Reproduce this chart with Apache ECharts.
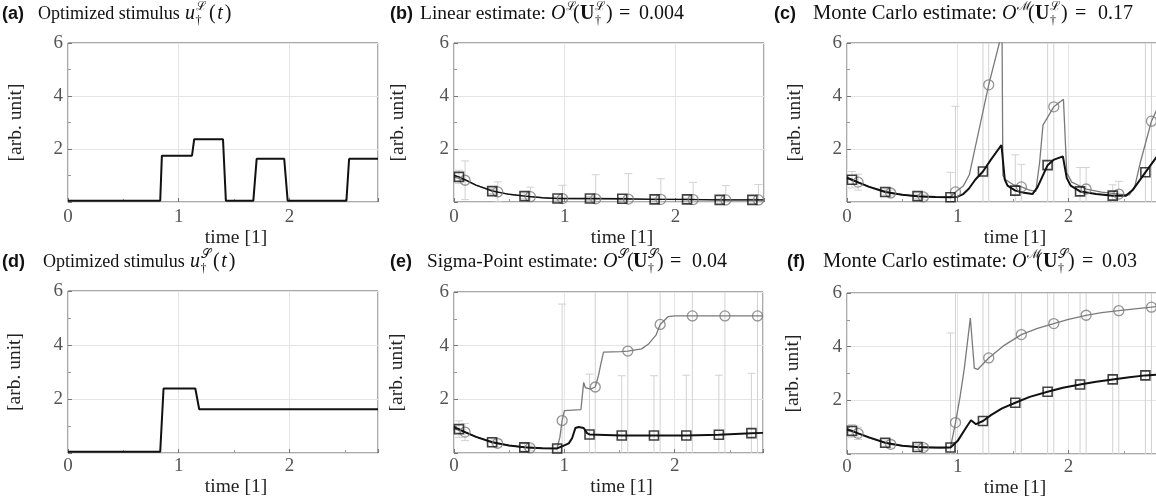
<!DOCTYPE html>
<html><head><meta charset="utf-8">
<script src="https://cdn.jsdelivr.net/npm/echarts@6/dist/echarts.min.js"></script>
<style>html,body{margin:0;padding:0;background:#fff}#c{width:1156px;height:496px}</style>
</head><body><div id="c"></div>
<script>
// ---------- DATA ----------
// optimized stimuli (a) and (d)
const stimA_t = [0, 0.833, 0.848, 1.12, 1.14, 1.40, 1.426, 1.674, 1.704, 1.953, 1.984, 2.515, 2.539, 2.8];
const stimA_u = [0.05, 0.05, 1.75, 1.75, 2.37, 2.37, 0.05, 0.05, 1.63, 1.63, 0.05, 0.05, 1.63, 1.63];
const stimD_t = [0, 0.833, 0.863, 1.15, 1.185, 2.8];
const stimD_u = [0.05, 0.05, 2.39, 2.39, 1.62, 1.62];

// marker times (squares = black estimate, circles = grey estimate)
const sqT = [0.045, 0.345, 0.637, 0.935, 1.228, 1.52, 1.812, 2.105, 2.40, 2.695];
const ciT = [0.10, 0.395, 0.69, 0.98, 1.28, 1.575, 1.868, 2.16, 2.455, 2.75];

// (b) linear estimate
const bSq = [0.95, 0.41, 0.22, 0.13, 0.13, 0.12, 0.10, 0.10, 0.08, 0.08];
const bCi = [0.82, 0.38, 0.20, 0.13, 0.12, 0.11, 0.10, 0.09, 0.08, 0.08];
const bSqTop = [1.2, 0.5, 0.3, 0.2, 0.2, 0.18, 0.15, 0.14, 0.12, 0.12];
const bCiTop = [1.55, 0.76, 0.56, 0.63, 1.03, 1.07, 0.88, 0.74, 0.62, 0.66];
const bBlackT = [0, 0.045, 0.1, 0.2, 0.345, 0.5, 0.637, 0.8, 0.935, 1.228, 1.52, 1.812, 2.105, 2.4, 2.695, 2.8];
const bBlackV = [1.0, 0.95, 0.84, 0.64, 0.41, 0.29, 0.22, 0.16, 0.13, 0.13, 0.12, 0.10, 0.10, 0.08, 0.08, 0.08];
const bGrayT = [0, 0.1, 0.2, 0.395, 0.5, 0.69, 0.85, 0.98, 1.28, 1.575, 1.868, 2.16, 2.455, 2.75, 2.8];
const bGrayV = [0.95, 0.82, 0.63, 0.38, 0.29, 0.20, 0.15, 0.13, 0.12, 0.11, 0.10, 0.09, 0.08, 0.08, 0.08];

// (c) Monte Carlo for U^L
const cSq = [0.84, 0.38, 0.22, 0.18, 1.15, 0.43, 1.39, 0.40, 0.24, 1.12];
const cCi = [0.75, 0.34, 0.19, 0.38, 4.42, 0.57, 3.59, 0.49, 0.30, 3.05];
const cSqTop = [1.15, 0.5, 0.3, 1.12, 12, 1.78, 12, 1.30, 0.65, 12];
const cCiTop = [1.05, 0.45, 0.3, 3.61, 12, 1.42, 12, 1.30, 0.78, 12];
const cBlackT = [0, 0.045, 0.1, 0.2, 0.345, 0.5, 0.637, 0.8, 0.935, 1.0, 1.05, 1.1, 1.16, 1.228, 1.3, 1.395, 1.425, 1.45, 1.52, 1.6, 1.675, 1.72, 1.812, 1.87, 1.95, 1.985, 2.02, 2.105, 2.25, 2.4, 2.52, 2.58, 2.695, 2.8];
const cBlackV = [0.92, 0.84, 0.74, 0.57, 0.38, 0.27, 0.22, 0.19, 0.18, 0.2, 0.3, 0.5, 0.85, 1.15, 1.6, 2.15, 0.85, 0.62, 0.43, 0.35, 0.30, 0.55, 1.39, 1.6, 1.72, 0.9, 0.62, 0.40, 0.30, 0.24, 0.24, 0.45, 1.12, 1.72];
const cGrayT = [0, 0.1, 0.2, 0.395, 0.5, 0.69, 0.85, 0.935, 0.98, 1.05, 1.105, 1.28, 1.376, 1.40, 1.408, 1.43, 1.5, 1.575, 1.65, 1.705, 1.74, 1.77, 1.868, 1.955, 1.985, 2.03, 2.16, 2.3, 2.455, 2.55, 2.6, 2.65, 2.75, 2.8];
const cGrayV = [0.88, 0.75, 0.58, 0.34, 0.27, 0.19, 0.18, 0.2, 0.38, 0.6, 1.03, 4.42, 6.0, 6.6, 1.0, 0.85, 0.66, 0.57, 0.45, 0.40, 1.5, 2.9, 3.59, 3.88, 1.1, 0.75, 0.49, 0.37, 0.30, 0.27, 0.6, 1.5, 3.05, 3.5];

// (e) sigma-point estimate
const eSq = [0.89, 0.40, 0.21, 0.17, 0.69, 0.65, 0.65, 0.65, 0.68, 0.74];
const eCi = [0.78, 0.36, 0.19, 1.21, 2.46, 3.80, 4.79, 5.11, 5.11, 5.11];
const eSqTop = [1.2, 0.55, 0.35, 0.3, 2.94, 2.88, 2.88, 2.9, 2.9, 2.97];
const eCiTop = [1.1, 0.5, 0.3, 5.55, 12, 12, 12, 12, 12, 12];
const eBlackT = [0, 0.045, 0.1, 0.2, 0.345, 0.5, 0.637, 0.8, 0.935, 1.01, 1.04, 1.07, 1.10, 1.13, 1.175, 1.205, 1.228, 1.52, 1.812, 2.105, 2.4, 2.695, 2.8];
const eBlackV = [0.96, 0.89, 0.78, 0.60, 0.40, 0.28, 0.21, 0.18, 0.17, 0.30, 0.36, 0.55, 0.93, 0.97, 0.93, 0.74, 0.69, 0.65, 0.65, 0.65, 0.68, 0.74, 0.75];
const eGrayT = [0, 0.1, 0.2, 0.395, 0.5, 0.69, 0.85, 0.935, 0.96, 0.98, 1.0, 1.15, 1.175, 1.19, 1.235, 1.28, 1.31, 1.33, 1.355, 1.51, 1.575, 1.70, 1.76, 1.83, 1.868, 1.94, 2.0, 2.8];
const eGrayV = [0.9, 0.78, 0.6, 0.36, 0.28, 0.19, 0.17, 0.18, 0.6, 1.21, 1.58, 1.62, 2.63, 2.44, 2.38, 2.46, 2.9, 3.3, 3.76, 3.78, 3.80, 3.88, 4.05, 4.39, 4.79, 5.08, 5.11, 5.11];

// (f) Monte Carlo for U^S
const fSq = [0.86, 0.42, 0.26, 0.24, 1.23, 1.91, 2.32, 2.59, 2.78, 2.93];
const fCi = [0.77, 0.36, 0.24, 1.17, 3.58, 4.45, 4.86, 5.17, 5.34, 5.47];
const fSqTop = [1.1, 0.55, 0.35, 4.51, 12, 12, 12, 12, 12, 12];
const fCiTop = [1.0, 0.5, 0.35, 12, 12, 12, 12, 12, 12, 12];
const fBlackT = [0, 0.045, 0.1, 0.2, 0.345, 0.5, 0.637, 0.8, 0.935, 1.0, 1.075, 1.12, 1.165, 1.228, 1.3, 1.4, 1.52, 1.65, 1.812, 1.95, 2.105, 2.25, 2.4, 2.55, 2.695, 2.8];
const fBlackV = [0.92, 0.86, 0.77, 0.62, 0.42, 0.31, 0.26, 0.24, 0.24, 0.49, 0.98, 1.26, 1.11, 1.23, 1.45, 1.7, 1.91, 2.13, 2.32, 2.47, 2.59, 2.69, 2.78, 2.86, 2.93, 2.96];
const fGrayT = [0, 0.1, 0.2, 0.395, 0.5, 0.69, 0.85, 0.935, 0.98, 1.02, 1.06, 1.114, 1.15, 1.18, 1.28, 1.42, 1.575, 1.72, 1.868, 2.0, 2.16, 2.3, 2.455, 2.6, 2.75, 2.8];
const fGrayV = [0.88, 0.77, 0.6, 0.36, 0.3, 0.24, 0.22, 0.25, 1.17, 2.1, 3.2, 5.07, 3.2, 3.15, 3.58, 4.05, 4.45, 4.68, 4.86, 5.02, 5.17, 5.27, 5.34, 5.41, 5.47, 5.5];

// axis ticks
const xTicks = [0, 1, 2];
const yTicks = [2, 4, 6];

// ---------- LAYOUT / STYLE ----------
const grids = [
  {left: 68, top: 43, width: 310, height: 159},
  {left: 454, top: 43, width: 310, height: 159},
  {left: 847, top: 43, width: 310, height: 159},
  {left: 68, top: 291, width: 310, height: 162},
  {left: 454, top: 292, width: 309, height: 161},
  {left: 847, top: 293, width: 310, height: 161}
];
const yNameGap = [42, 46, 42, 43, 47, 44];
const xNameGap = [15, 15, 15, 17, 17, 17];
const xLabMargin = [6, 6, 6, 4, 4, 4];

const SERIF = 'Liberation Serif';
const zip = (a, b) => a.map((v, i) => [v, b[i]]);

const xAxes = grids.map((g, i) => ({
  type: 'value', gridIndex: i, min: 0, max: 2.8, interval: 1,
  name: 'time [1]', nameLocation: 'middle', nameGap: xNameGap[i],
  nameTextStyle: {fontFamily: SERIF, fontSize: 19.5, color: '#222', padding: [0, 0, 0, 26]},
  axisLine: {show: false},
  axisTick: {show: true, inside: true, length: 4, lineStyle: {color: '#777'}},
  minorTick: {show: true, splitNumber: 2, length: 3, lineStyle: {color: '#999'}},
  axisLabel: {fontFamily: SERIF, fontSize: 19, color: '#555', margin: xLabMargin[i],
    formatter: v => xTicks.includes(v) ? String(v) : ''},
  splitLine: {show: true, lineStyle: {color: '#e4e4e4', width: 1}}
}));
const yAxes = grids.map((g, i) => ({
  type: 'value', gridIndex: i, min: 0, max: 6, interval: 2,
  name: '[arb. unit]', nameLocation: 'middle', nameRotate: 90, nameGap: yNameGap[i],
  nameTextStyle: {fontFamily: SERIF, fontSize: 19.5, color: '#222'},
  axisLine: {show: false},
  axisTick: {show: true, inside: true, length: 4, lineStyle: {color: '#777'}},
  minorTick: {show: true, splitNumber: 2, length: 3, lineStyle: {color: '#999'}},
  axisLabel: {fontFamily: SERIF, fontSize: 19, color: '#555', margin: 5,
    formatter: v => yTicks.includes(v) ? String(v) : ''},
  splitLine: {show: true, lineStyle: {color: '#e4e4e4', width: 1}}
}));

function lineS(i, t, v, color, width, z) {
  return {type: 'line', xAxisIndex: i, yAxisIndex: i, data: zip(t, v), showSymbol: false, symbol: 'none',
    clip: true, silent: true, z: z, lineStyle: {color: color, width: width}, animation: false};
}
function markS(i, t, v, kind) {
  const sq = kind === 'sq';
  return {type: 'scatter', xAxisIndex: i, yAxisIndex: i, data: zip(t, v), symbol: sq ? 'rect' : 'circle',
    symbolSize: sq ? 9 : 10, silent: true, z: sq ? 6 : 5, clip: true, animation: false,
    itemStyle: {color: 'rgba(255,255,255,0)', borderColor: sq ? '#111' : '#7a7a7a', borderWidth: sq ? 1.6 : 1.3}};
}
function errS(i, t, mean, top) {
  const data = t.map((x, k) => [x, 2 * mean[k] - top[k], top[k]]);
  return {type: 'custom', xAxisIndex: i, yAxisIndex: i, clip: true, silent: true, z: 1, animation: false,
    encode: {x: 0, y: [1, 2]}, data: data,
    renderItem: (p, api) => {
      const x = api.value(0), lo = api.value(1), hi = api.value(2);
      const a = api.coord([x, hi]), b = api.coord([x, lo]);
      const st = {stroke: '#d2d2d2', lineWidth: 1, fill: null};
      return {type: 'group', children: [
        {type: 'line', shape: {x1: a[0], y1: a[1], x2: b[0], y2: b[1]}, style: st},
        {type: 'line', shape: {x1: a[0] - 4, y1: a[1], x2: a[0] + 4, y2: a[1]}, style: st},
        {type: 'line', shape: {x1: b[0] - 4, y1: b[1], x2: b[0] + 4, y2: b[1]}, style: st}
      ]};
    }};
}
function panel(i, blackT, blackV, grayT, grayV, sq, ci, sqTop, ciTop, bw) {
  return [
    errS(i, sqT, sq, sqTop), errS(i, ciT, ci, ciTop),
    lineS(i, grayT, grayV, '#7a7a7a', 1.3, 3),
    lineS(i, blackT, blackV, '#111', bw, 4),
    markS(i, ciT, ci, 'ci'), markS(i, sqT, sq, 'sq')
  ];
}

const series = [
  lineS(0, stimA_t, stimA_u, '#111', 2, 4),
  ...panel(1, bBlackT, bBlackV, bGrayT, bGrayV, bSq, bCi, bSqTop, bCiTop, 1.4),
  ...panel(2, cBlackT, cBlackV, cGrayT, cGrayV, cSq, cCi, cSqTop, cCiTop, 2),
  lineS(3, stimD_t, stimD_u, '#111', 2, 4),
  ...panel(4, eBlackT, eBlackV, eGrayT, eGrayV, eSq, eCi, eSqTop, eCiTop, 2),
  ...panel(5, fBlackT, fBlackV, fGrayT, fGrayV, fSq, fCi, fSqTop, fCiTop, 2)
];

// ---------- TITLES (math-like layout) ----------
const mctx = document.createElement('canvas').getContext('2d');
const F = {
  lab: {fontFamily: 'Liberation Sans', fontWeight: 'bold', fontSize: 18},
  rm: {fontFamily: SERIF, fontSize: 19.5},
  mr: {fontFamily: SERIF, fontSize: 20},
  it: {fontFamily: SERIF, fontStyle: 'italic', fontSize: 20},
  bf: {fontFamily: SERIF, fontWeight: 'bold', fontSize: 20},
  sup: {fontFamily: 'DejaVu Serif', fontSize: 12.5, dy: -7},
  sub: {fontFamily: SERIF, fontSize: 12, dy: 7}
};
function fontStr(f) { return (f.fontStyle || 'normal') + ' ' + (f.fontWeight || 'normal') + ' ' + f.fontSize + 'px "' + f.fontFamily + '"'; }
function txt(x, y, t, f) {
  return {type: 'text', x: x, y: y + (f.dy || 0), silent: true,
    style: {text: t, fontFamily: f.fontFamily, fontSize: f.fontSize, fontWeight: f.fontWeight || 'normal',
      fontStyle: f.fontStyle || 'normal', fill: '#111', align: 'left', verticalAlign: 'middle'}};
}
function build(y, parts) {
  const els = []; let cx = 0;
  for (const p of parts) {
    if (p.x !== undefined) cx = p.x;
    const group = p.stack || [[p.t, p.f]];
    let w = 0;
    for (const [t, fk] of group) {
      let f = F[fk]; mctx.font = fontStr(f);
      let ww = mctx.measureText(t).width;
      if (p.fitTo !== undefined) {
        f = Object.assign({}, f, {fontSize: +(f.fontSize * (p.fitTo - cx) / ww).toFixed(2)});
        ww = p.fitTo - cx;
      }
      w = Math.max(w, ww);
      els.push(txt(cx, y, t, f));
    }
    cx += w + (p.gap || 0);
  }
  return els;
}
const titles = [
  ...build(14, [{x: 2, t: '(a)', f: 'lab'}, {x: 38, t: 'Optimized stimulus', f: 'rm', fitTo: 180}, {x: 185, t: 'u', f: 'it', gap: 0.5},
    {stack: [['ℒ', 'sup'], ['†', 'sub']]}, {x: 209, t: '(', f: 'mr', gap: 1.5}, {t: 't', f: 'it', gap: 2}, {t: ')', f: 'mr'}]),
  ...build(14, [{x: 390, t: '(b)', f: 'lab'}, {x: 420, t: 'Linear estimate:', f: 'rm', fitTo: 546}, {x: 551, t: 'O', f: 'it', gap: 0.5},
    {stack: [['ℒ', 'sup']]}, {x: 573, t: '(', f: 'mr'}, {x: 580, t: 'U', f: 'bf', gap: 0.5}, {stack: [['ℒ', 'sup'], ['†', 'sub']]},
    {x: 606, t: ')', f: 'mr'}, {x: 619, t: '=', f: 'mr'}, {x: 639, t: '0.004', f: 'mr'}]),
  ...build(14, [{x: 774, t: '(c)', f: 'lab'}, {x: 813, t: 'Monte Carlo estimate:', f: 'rm', fitTo: 997}, {x: 1002, t: 'O', f: 'it', gap: 0.5},
    {stack: [['ℳ', 'sup']]}, {x: 1028, t: '(', f: 'mr'}, {x: 1035, t: 'U', f: 'bf', gap: 0.5}, {stack: [['ℒ', 'sup'], ['†', 'sub']]},
    {x: 1061, t: ')', f: 'mr'}, {x: 1075, t: '=', f: 'mr'}, {x: 1098, t: '0.17', f: 'mr'}]),
  ...build(262, [{x: 2, t: '(d)', f: 'lab'}, {x: 43, t: 'Optimized stimulus', f: 'rm', fitTo: 185}, {x: 190, t: 'u', f: 'it', gap: 0.5},
    {stack: [['𝒮', 'sup'], ['†', 'sub']]}, {x: 213, t: '(', f: 'mr', gap: 1.5}, {t: 't', f: 'it', gap: 2}, {t: ')', f: 'mr'}]),
  ...build(262, [{x: 390, t: '(e)', f: 'lab'}, {x: 427, t: 'Sigma-Point estimate:', f: 'rm', fitTo: 598}, {x: 603, t: 'O', f: 'it', gap: 0.5},
    {stack: [['𝒮', 'sup']]}, {x: 627, t: '(', f: 'mr'}, {x: 633, t: 'U', f: 'bf', gap: 0.5}, {stack: [['𝒮', 'sup'], ['†', 'sub']]},
    {x: 657, t: ')', f: 'mr'}, {x: 670, t: '=', f: 'mr'}, {x: 692, t: '0.04', f: 'mr'}]),
  ...build(262, [{x: 787, t: '(f)', f: 'lab'}, {x: 823, t: 'Monte Carlo estimate:', f: 'rm', fitTo: 1007}, {x: 1012, t: 'O', f: 'it', gap: 0.5},
    {stack: [['ℳ', 'sup']]}, {x: 1036, t: '(', f: 'mr'}, {x: 1043, t: 'U', f: 'bf', gap: 0.5}, {stack: [['𝒮', 'sup'], ['†', 'sub']]},
    {x: 1068, t: ')', f: 'mr'}, {x: 1082, t: '=', f: 'mr'}, {x: 1102, t: '0.03', f: 'mr'}])
];

const chart = echarts.init(document.getElementById('c'), null, {renderer: 'canvas'});
chart.setOption({
  animation: false,
  backgroundColor: '#fff',
  grid: grids.map(g => Object.assign({show: true, borderColor: '#555', borderWidth: 1, backgroundColor: 'transparent',
    containLabel: false, outerBoundsMode: 'none'}, g)),
  xAxis: xAxes,
  yAxis: yAxes,
  series: series,
  graphic: {elements: titles}
});
</script>
</body></html>
